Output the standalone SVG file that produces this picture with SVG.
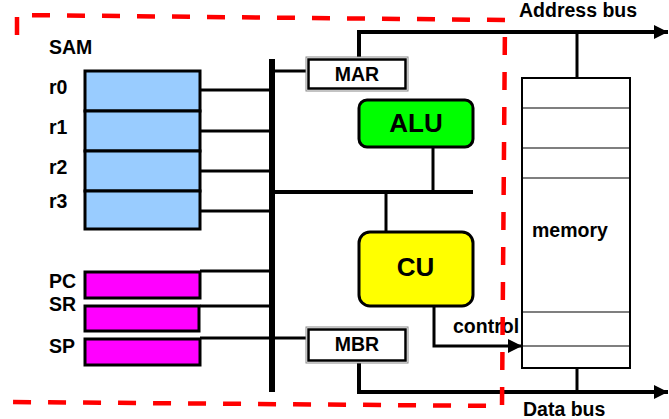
<svg xmlns="http://www.w3.org/2000/svg" width="669" height="419" viewBox="0 0 669 419">
<style>
.t{font-family:"Liberation Sans",Arial,sans-serif;font-weight:bold;fill:#000}
.lbl{font-size:19.5px}
.big{font-size:26px}
.ln{stroke:#000;stroke-width:3;fill:none}
.reg{fill:#99CCFF;stroke:#000;stroke-width:3}
.mag{fill:#FF00FF;stroke:#000;stroke-width:3}
.mem{fill:#fff;stroke:#000;stroke-width:2}
.memln{stroke:#000;stroke-width:1.2}
</style>
<defs>
<marker id="ah" viewBox="0 0 10 10" refX="10" refY="5" markerWidth="14" markerHeight="14" markerUnits="userSpaceOnUse" orient="auto">
<path d="M0,0 L10,5 L0,10 Z" fill="#000"/>
</marker>
</defs>
<rect width="669" height="419" fill="#fff"/>

<g id="connectors">
<line class="ln" x1="272" y1="59" x2="272" y2="392" style="stroke-width:6"/>
<line class="ln" x1="200" y1="90" x2="272" y2="90"/>
<line class="ln" x1="200" y1="131" x2="272" y2="131"/>
<line class="ln" x1="200" y1="171" x2="272" y2="171"/>
<line class="ln" x1="200" y1="211" x2="272" y2="211"/>
<line class="ln" x1="200" y1="271" x2="272" y2="271"/>
<line class="ln" x1="200" y1="306" x2="272" y2="306"/>
<line class="ln" x1="200" y1="338" x2="306" y2="338"/>
<line class="ln" x1="272" y1="71" x2="306" y2="71"/>
<line class="ln" x1="272" y1="192" x2="473" y2="192" style="stroke-width:4"/>
<line class="ln" x1="433" y1="147" x2="433" y2="192"/>
<line class="ln" x1="386" y1="192" x2="386" y2="232"/>
<polyline class="ln" points="359,57 359,32 668,32" style="stroke-width:4" marker-end="url(#ah)"/>
<polyline class="ln" points="359,363 359,392 668,392" style="stroke-width:4" marker-end="url(#ah)"/>
<line class="ln" x1="577" y1="32" x2="577" y2="78"/>
<line class="ln" x1="577" y1="368" x2="577" y2="392"/>
<polyline class="ln" points="434,306 434,346 522,346" marker-end="url(#ah)"/>
</g>

<g id="sam-label"><text class="t lbl" x="49" y="54">SAM</text></g>

<g id="r0"><rect class="reg" x="85" y="71" width="115" height="40"/><text class="t lbl" x="49" y="94">r0</text></g>
<g id="r1"><rect class="reg" x="85" y="111" width="115" height="40"/><text class="t lbl" x="49" y="134">r1</text></g>
<g id="r2"><rect class="reg" x="85" y="151" width="115" height="40"/><text class="t lbl" x="49" y="174">r2</text></g>
<g id="r3"><rect class="reg" x="85" y="191" width="115" height="38"/><text class="t lbl" x="49" y="208">r3</text></g>

<g id="pc"><rect class="mag" x="85" y="272" width="115" height="26"/><text class="t lbl" x="49" y="288">PC</text></g>
<g id="sr"><rect class="mag" x="85" y="306" width="114" height="25"/><text class="t lbl" x="49" y="311">SR</text></g>
<g id="sp"><rect class="mag" x="85" y="339" width="115" height="26"/><text class="t lbl" x="49" y="353">SP</text></g>

<g id="mar">
<rect x="306" y="57" width="102" height="34" fill="#fff" stroke="#888" stroke-width="1"/>
<rect x="308.5" y="59.5" width="97" height="29" fill="#fff" stroke="#000" stroke-width="2.5"/>
<text class="t lbl" x="357" y="81" text-anchor="middle">MAR</text>
</g>
<g id="mbr">
<rect x="306" y="327" width="102" height="36" fill="#fff" stroke="#888" stroke-width="1"/>
<rect x="308.5" y="329.5" width="97" height="31" fill="#fff" stroke="#000" stroke-width="2.5"/>
<text class="t lbl" x="357" y="351" text-anchor="middle">MBR</text>
</g>

<g id="alu">
<rect x="359" y="100" width="114" height="47" rx="8" fill="#00FF00" stroke="#000" stroke-width="3"/>
<text class="t big" x="416" y="132" text-anchor="middle">ALU</text>
</g>
<g id="cu">
<rect x="359" y="232" width="114" height="74" rx="11" fill="#FFFF00" stroke="#000" stroke-width="3"/>
<text class="t big" x="415.5" y="276" text-anchor="middle">CU</text>
</g>

<g id="control-label"><text class="t lbl" x="453" y="333">control</text></g>

<g id="memory">
<rect class="mem" x="522" y="78" width="108" height="290"/>
<line class="memln" x1="522" y1="108" x2="630" y2="108"/>
<line class="memln" x1="522" y1="148" x2="630" y2="148"/>
<line class="memln" x1="522" y1="178" x2="630" y2="178"/>
<line class="memln" x1="522" y1="312" x2="630" y2="312"/>
<line class="memln" x1="522" y1="346" x2="630" y2="346"/>
<text class="t lbl" x="532" y="237">memory</text>
</g>

<g id="bus-labels">
<text class="t lbl" x="519" y="17">Address bus</text>
<text class="t lbl" x="523" y="416">Data bus</text>
</g>

<g id="boundary">
<polyline points="17,35 17,15 505,20 502,406 13,402 13,385" fill="none" stroke="#FF0000" stroke-width="4.5" stroke-dasharray="18,17"/>
</g>
</svg>
